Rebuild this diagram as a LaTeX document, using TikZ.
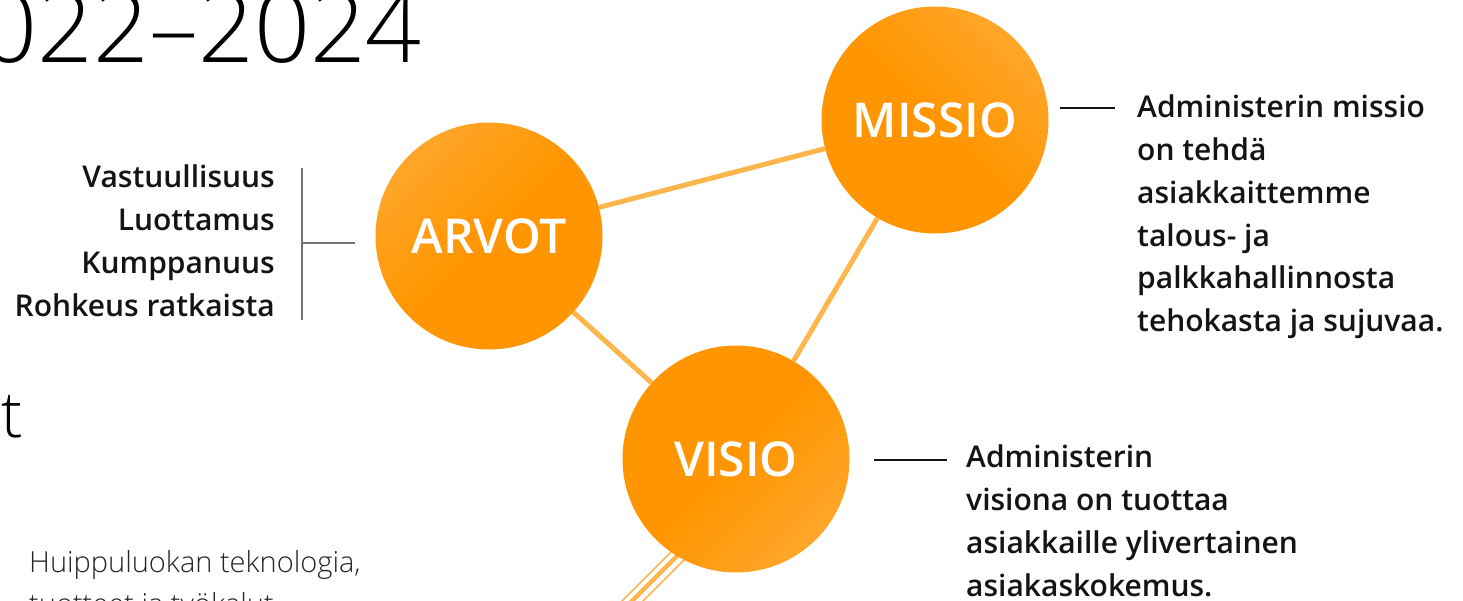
\documentclass[tikz,border=0pt]{standalone}
\usepackage{fontspec}
\setmainfont{Open Sans}
\IfFontExistsTF{Open Sans Light}{\newfontfamily\lightfont{Open Sans Light}}{\newfontfamily\lightfont{Open Sans}}
\IfFontExistsTF{Open Sans SemiBold}{\newfontfamily\semifont{Open Sans SemiBold}}{%
  \IfFontExistsTF{Open Sans Semibold}{\newfontfamily\semifont{Open Sans Semibold}}{\def\semifont{\bfseries}}}
\usetikzlibrary{backgrounds}
\definecolor{orangebase}{RGB}{255,149,0}
\definecolor{orangelite}{RGB}{255,166,42}
\definecolor{linkcol}{RGB}{252,182,76}
\definecolor{inkcol}{RGB}{20,20,20}
\tikzstyle{vertex}=[circle,minimum size=227pt,inner sep=0pt,text=white,top color=orangelite,bottom color=orangebase,middle color=orangebase,font=\semifont\fontsize{48}{50}\selectfont]
\tikzstyle{edge} = [draw,line width=5pt,linkcol]
\tikzstyle{trail} = [draw,linkcol]
\tikzstyle{tick} = [draw,line width=1.2pt,inkcol]
\tikzstyle{bracket} = [draw,line width=1.2pt,black!55]
\tikzstyle{blurb}=[inner sep=0pt,text=inkcol,font=\semifont\fontsize{30}{42.7}\selectfont]
\tikzstyle{heading}=[inner sep=0pt,text=black,font=\lightfont\fontsize{98}{100}\selectfont]
\tikzstyle{subhead}=[inner sep=0pt,text=black,font=\lightfont\fontsize{64}{66}\selectfont]
\tikzstyle{bodytext}=[inner sep=0pt,text=black!85,align=left,font=\lightfont\fontsize{29}{42}\selectfont]

\begin{document}
\begin{tikzpicture}[x=1pt,y=-1pt]
    \useasboundingbox (0,0) rectangle (1463,601);
    \clip (0,0) rectangle (1463,601);

    \node[vertex,shading angle=45] (arvot) at (489,236) {ARVOT};
    \node[vertex,shading angle=-45] (missio) at (935,120) {MISSIO};
    \node[vertex,shading angle=-135] (visio) at (736,459) {VISIO};

    \path[edge] (arvot) -- (missio);
    \path[edge] (arvot) -- (visio);
    \path[edge] (missio) -- (visio);

    % trail leaving visio
    \begin{scope}[on background layer]
        \clip (0,0) rectangle (1463,601);
        \foreach \s/\w in {14/1.6,19/4.5,24.5/1.6}
            \path[trail,line width=\w] ([shift={(\s,\s)}]visio.center) -- ++(-160,160);
    \end{scope}

    \node[heading,anchor=base east] (years) at (422,63) {022–2024};
    \node[subhead,anchor=base east] (cut) at (23,437) {t};
    \node[bodytext,anchor=base west] (tools) at (29,614) {Huippuluokan teknologia,\\tuotteet ja työkalut};

    \node[blurb,align=right,anchor=north east] (values) at (275,165) {Vastuullisuus\\Luottamus\\Kumppanuus\\Rohkeus ratkaista};
    \node[blurb,align=left,anchor=north west] (mission) at (1137,95) {Administerin missio\\on tehdä\\asiakkaittemme\\talous- ja\\palkkahallinnosta\\tehokasta ja sujuvaa.};
    \node[blurb,align=left,anchor=north west] (vision) at (966,445) {Administerin\\visiona on tuottaa\\asiakkaille ylivertainen\\asiakaskokemus.};

    \coordinate (bartop) at (302,168);
    \coordinate (barbot) at (302,320);
    \coordinate (barmid) at (302,243);
    \path[bracket] (bartop) -- (barbot);
    \path[bracket] (barmid) -- ([xshift=-20]arvot.west |- barmid);

    \coordinate (missiotick) at (1060,108);
    \path[tick] (missiotick) -- +(55,0);
    \coordinate (visiotick) at (874,460);
    \path[tick] (visiotick) -- +(73,0);
\end{tikzpicture}
\end{document}
